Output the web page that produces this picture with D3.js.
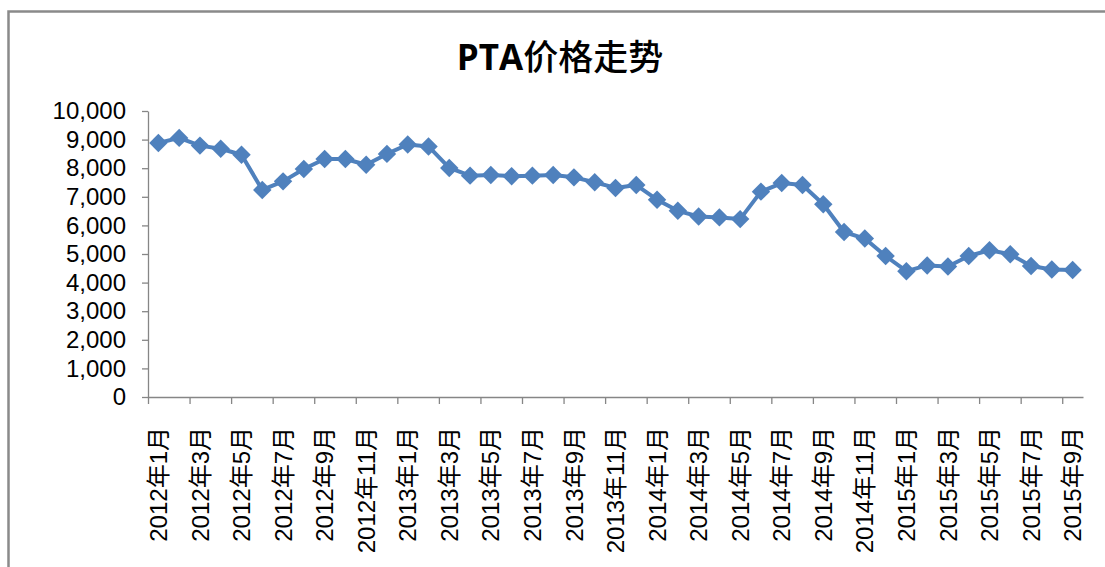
<!DOCTYPE html>
<html>
<head>
<meta charset="utf-8">
<script src="https://cdn.jsdelivr.net/npm/d3@7"></script>
<style>
  body { margin: 0; background: #fff; }
  .axis text { font-family: "Liberation Sans", "Noto Sans CJK SC", sans-serif; font-size: 24px; fill: #000; }
  .axis path, .axis line { stroke: #868686; stroke-width: 1.3; }
</style>
</head>
<body>
<div id="chart"></div>
<script>
var years = [2012, 2013, 2014, 2015];

// months from 2012年1月 to 2015年9月
var months = [];
years.forEach(function (yr) {
	for (var m = 1; m <= 12; m++) {
		if (yr === 2015 && m > 9) break;
		months.push(yr + "年" + m + "月");
	}
});

var prices = [
	8880, 9060, 8790, 8680, 8470, 7240, 7540, 7970, 8320, 8320, 8120, 8500,
	8830, 8760, 8010, 7740, 7760, 7720, 7740, 7760, 7680, 7510, 7310, 7410,
	6900, 6510, 6310, 6280, 6220, 7180, 7480, 7410, 6740, 5770, 5540, 4930,
	4400, 4600, 4560, 4930, 5130, 4990, 4580, 4460, 4440
];

var yTicks = [0, 1000, 2000, 3000, 4000, 5000, 6000, 7000, 8000, 9000, 10000];

var W = 1105, H = 567;
var plot = { left: 148, right: 1083, top: 111, bottom: 397 };

var svg = d3.select("#chart").append("svg")
	.attr("width", W)
	.attr("height", H);

// chart frame (right/bottom edges fall outside the picture)
svg.append("rect")
	.attr("x", 8.5)
	.attr("y", 11.5)
	.attr("width", W + 20)
	.attr("height", H + 20)
	.style("fill", "none")
	.style("stroke", "#8a8a8a")
	.style("stroke-width", 2.5);

var title = svg.append("text")
	.attr("x", 560)
	.attr("y", 70)
	.attr("text-anchor", "middle")
	.style("font-size", "35px");
title.append("tspan")
	.text("PTA")
	.style("font-family", "'Open Sans', 'Liberation Sans', sans-serif")
	.style("font-weight", "bold");
title.append("tspan")
	.text("价格走势")
	.style("font-family", "'Noto Sans CJK SC', sans-serif")
	.style("font-weight", "500");

var x = d3.scaleBand()
	.domain(months)
	.range([plot.left, plot.right])
	.padding(0);

var xEdge = d3.scaleLinear()
	.domain([0, months.length])
	.range([plot.left, plot.right]);

var y = d3.scaleLinear()
	.domain([0, 10000])
	.range([plot.bottom, plot.top]);

// y axis
svg.append("g")
	.attr("class", "axis")
	.attr("transform", "translate(" + plot.left + ",0)")
	.call(d3.axisLeft(y).tickValues(yTicks).tickSize(6).tickSizeOuter(0).tickPadding(16).tickFormat(d3.format(",")));

// x axis tick marks between categories
svg.append("g")
	.attr("class", "axis")
	.attr("transform", "translate(0," + plot.bottom + ")")
	.call(d3.axisBottom(xEdge).tickValues(d3.range(0, months.length, 2)).tickSize(7).tickSizeOuter(0).tickFormat(""));

// x axis labels, every other month
var xLabels = svg.append("g")
	.attr("class", "axis")
	.attr("transform", "translate(0," + plot.bottom + ")")
	.call(d3.axisBottom(x).tickValues(months.filter(function (d, i) { return i % 2 === 0; })).tickSize(0));
xLabels.select(".domain").remove();
xLabels.selectAll("text")
	.attr("transform", "rotate(-90)")
	.attr("x", -30)
	.attr("y", 0)
	.attr("dy", "0.36em")
	.style("text-anchor", "end");

var line = d3.line()
	.x(function (d, i) { return x(months[i]) + x.bandwidth() / 2; })
	.y(function (d) { return y(d); });

svg.append("path")
	.datum(prices)
	.attr("d", line)
	.style("fill", "none")
	.style("stroke", "#4F81BD")
	.style("stroke-width", 4)
	.style("stroke-linejoin", "round");

svg.selectAll(".marker")
	.data(prices)
	.enter().append("path")
	.attr("class", "marker")
	.attr("d", d3.symbol().type(d3.symbolSquare).size(170))
	.attr("transform", function (d, i) {
		return "translate(" + (x(months[i]) + x.bandwidth() / 2) + "," + y(d) + ") rotate(45)";
	})
	.style("fill", "#4F81BD");
</script>
</body>
</html>
